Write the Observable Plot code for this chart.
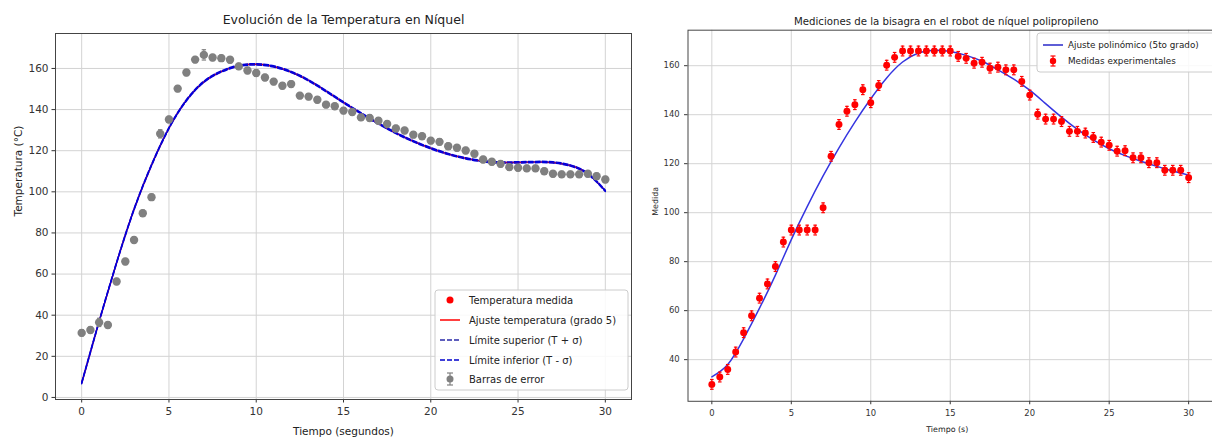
<!DOCTYPE html>
<html><head><meta charset="utf-8">
<script src="https://cdn.jsdelivr.net/npm/d3@7"></script>
<script src="https://cdn.jsdelivr.net/npm/@observablehq/plot@0.6"></script>
<style>
html,body{margin:0;padding:0;background:#fff;overflow:hidden;width:1212px;height:442px;position:relative;}
#left,#right{position:absolute;top:0;}
#left{left:0;} #right{left:640px;}
#legend{position:absolute;left:0;top:0;pointer-events:none;}
svg{font-family:"DejaVu Sans",sans-serif;}
</style></head><body>
<div id="left"></div><div id="right"></div>
<svg id="legend" width="1212" height="442"></svg>
<script>
// ---------- DATA ----------
const tiempo = [0,0.5,1,1.5,2,2.5,3,3.5,4,4.5,5,5.5,6,6.5,7,7.5,8,8.5,9,9.5,10,10.5,11,11.5,12,12.5,13,13.5,14,14.5,15,15.5,16,16.5,17,17.5,18,18.5,19,19.5,20,20.5,21,21.5,22,22.5,23,23.5,24,24.5,25,25.5,26,26.5,27,27.5,28,28.5,29,29.5,30];
const temperatura = [31.4,32.8,36.5,35.2,56.4,66.1,76.6,89.6,97.4,128.2,135.2,150.2,158,164.3,166.6,165.3,165,164.2,161,159,157.8,155.6,153.6,151.6,152.4,146.8,146.3,144.8,142.4,141.6,139.5,138.8,136.2,135.9,134.6,133,130.8,129.8,127.8,127,124.9,124.3,122.2,121.4,120.1,118.5,115.7,114.6,113.6,112,111.7,111.4,111.4,110,108.8,108.5,108.5,108.5,108.8,107.6,106];
const errorTemp = [1.5,1.5,2,1.5,1.5,1.5,1.5,1.5,1.5,2,1.5,1.5,1.5,1.5,2.5,1.5,1.5,1.5,1.5,1.5,1.5,1.5,1.5,1.5,1.5,1.5,1.5,1.5,1.5,1.5,1.5,1.5,1.5,1.5,1.5,1.5,1.5,1.5,1.5,1.5,1.5,1.5,1.5,1.5,1.5,1.5,1.5,1.5,1.5,1.5,1.5,1.5,1.5,1.5,1.5,1.5,1.5,1.5,1.5,1.5,1.5];
const ajusteX = [0,1,2,3,4,5,6,7,8,9,10,11,12,13,14,15,16,17,18,19,20,21,22,23,24,25,26,27,28,29,30];
const ajusteTemp = [7,37,65.5,91.5,113,131,144.5,153.5,158.5,161.3,162,161,158.3,154.2,149,143.5,138.2,133.2,128.6,124.6,121.2,118.4,116.3,114.9,114.3,114.3,114.5,114.3,112.8,108.8,100.5];
const medida = [29.9,32.9,36,43.1,51,57.9,65.1,70.9,78,88,92.9,92.9,92.9,92.9,102,123,136,141.4,144.1,150.2,144.9,151.9,160.2,163.4,166,166,166,166,166,166,166,163.8,163,161,161.4,159,159.4,158.3,158.3,153.6,148,140.2,138.2,138.2,137.2,133.2,133.2,132.5,130.7,128.8,127.5,125.1,125.3,122.4,122.4,120.4,120.4,117.3,117.3,117.3,114.3];
const errorMedida = 2;
const ajusteMedida = [33,38,48.5,61,74.5,89,102.5,115,126.5,137,146.5,155,161.5,165.2,166.3,165.8,164.2,161.8,158.3,154.5,150,144.5,139,134,129.7,126.1,123.3,121,118.9,117,115.3];
const xTicks = [0,5,10,15,20,25,30];
const yTicksLeft = [0,20,40,60,80,100,120,140,160];
const yTicksRight = [40,60,80,100,120,140,160];
const tituloIzq = "Evolución de la Temperatura en Níquel";
const tituloDer = "Mediciones de la bisagra en el robot de níquel polipropileno";
const etiquetasIzq = {x: "Tiempo (segundos)", y: "Temperatura (°C)"};
const etiquetasDer = {x: "Tiempo (s)", y: "Medida"};
const leyendaIzq = ["Temperatura medida","Ajuste temperatura (grado 5)","Límite superior (T + σ)","Límite inferior (T - σ)","Barras de error"];
const leyendaDer = ["Ajuste polinómico (5to grado)","Medidas experimentales"];

// ---------- TABLES ----------
const datosIzq = tiempo.map((t,i)=>({t, v: temperatura[i], e: errorTemp[i]}));
const ajusteIzq = ajusteX.map((t,i)=>({t, v: ajusteTemp[i]}));
const datosDer = tiempo.map((t,i)=>({t, v: medida[i], e: errorMedida}));
const ajusteDer = ajusteX.map((t,i)=>({t, v: ajusteMedida[i]}));

const cap = {draw(ctx, size){ const w = Math.sqrt(size/Math.PI); ctx.moveTo(-w,0); ctx.lineTo(w,0); }};
const gris = "#808080";
const gridC = "#d3d3d3";
const frameC = "#444";

const left = Plot.plot({
  width: 640, height: 442,
  marginLeft: 55, marginRight: 9, marginTop: 33, marginBottom: 43,
  x: {domain: [-1.5, 31.5]},
  y: {domain: [-1, 177]},
  style: {fontFamily: "DejaVu Sans, sans-serif", background: "transparent"},
  marks: [
    Plot.gridX(xTicks, {stroke: gridC, strokeOpacity: 1}),
    Plot.gridY(yTicksLeft, {stroke: gridC, strokeOpacity: 1}),
    Plot.axisX(xTicks, {tickSize: 3.5, tickPadding: 5, fontSize: 10.5, color: "#333", label: null}),
    Plot.axisY(yTicksLeft, {tickSize: 3.5, tickPadding: 3.5, fontSize: 10.5, color: "#333", label: null}),
    Plot.line(ajusteIzq, {x: "t", y: "v", stroke: "red", strokeWidth: 1.5, curve: "natural"}),
    Plot.line(ajusteIzq, {x: "t", y: d => d.v + 0.3, stroke: "#0000dd", strokeWidth: 1.5, strokeDasharray: "5,2", curve: "natural"}),
    Plot.line(ajusteIzq, {x: "t", y: d => d.v - 0.3, stroke: "#0000dd", strokeWidth: 1.5, strokeDasharray: "5,2", curve: "natural"}),
    Plot.ruleX(datosIzq, {x: "t", y1: d => d.v - d.e, y2: d => d.v + d.e, stroke: gris, strokeWidth: 1.2}),
    Plot.dot(datosIzq, {x: "t", y: d => d.v + d.e, symbol: cap, r: 2.2, stroke: gris, fill: "none", strokeWidth: 1.2}),
    Plot.dot(datosIzq, {x: "t", y: d => d.v - d.e, symbol: cap, r: 2.2, stroke: gris, fill: "none", strokeWidth: 1.2}),
    Plot.dot(datosIzq, {x: "t", y: "v", r: 4.2, fill: gris, stroke: "none"}),
    Plot.frame({stroke: frameC, strokeWidth: 1}),
    Plot.text([tituloIzq], {text: d => d, frameAnchor: "top", dy: -18, fontSize: 12.5, fill: "#222"}),
    Plot.text([etiquetasIzq.x], {text: d => d, frameAnchor: "bottom", dy: 35, fontSize: 10.5, fill: "#222"}),
    Plot.text([etiquetasIzq.y], {text: d => d, frameAnchor: "left", dx: -37, rotate: -90, fontSize: 10.5, fill: "#222"})
  ]
});
document.getElementById("left").append(left);

const right = Plot.plot({
  width: 578, height: 442,
  marginLeft: 48, marginRight: 0, marginTop: 30, marginBottom: 37,
  x: {domain: [-1.5, 31.5]},
  y: {domain: [23, 174.5]},
  style: {fontFamily: "DejaVu Sans, sans-serif", background: "transparent"},
  marks: [
    Plot.gridX(xTicks, {stroke: gridC, strokeOpacity: 1}),
    Plot.gridY(yTicksRight, {stroke: gridC, strokeOpacity: 1}),
    Plot.axisX(xTicks, {tickSize: 3.5, tickPadding: 5, fontSize: 8.5, color: "#333", label: null}),
    Plot.axisY(yTicksRight, {tickSize: 3.5, tickPadding: 5, fontSize: 8.5, color: "#333", label: null}),
    Plot.line(ajusteDer, {x: "t", y: "v", stroke: "#3535e0", strokeWidth: 1.5, curve: "natural"}),
    Plot.ruleX(datosDer, {x: "t", y1: d => d.v - d.e, y2: d => d.v + d.e, stroke: "red", strokeWidth: 1.2}),
    Plot.dot(datosDer, {x: "t", y: d => d.v + d.e, symbol: cap, r: 1.8, stroke: "red", fill: "none", strokeWidth: 1.2}),
    Plot.dot(datosDer, {x: "t", y: d => d.v - d.e, symbol: cap, r: 1.8, stroke: "red", fill: "none", strokeWidth: 1.2}),
    Plot.dot(datosDer, {x: "t", y: "v", r: 3.5, fill: "red", stroke: "none"}),
    Plot.frame({stroke: frameC, strokeWidth: 1}),
    Plot.text([tituloDer], {text: d => d, frameAnchor: "top", dx: -4, dy: -13, fontSize: 10.3, fill: "#222"}),
    Plot.text([etiquetasDer.x], {text: d => d, frameAnchor: "bottom", dx: -3, dy: 31, fontSize: 8, fill: "#222"}),
    Plot.text([etiquetasDer.y], {text: d => d, frameAnchor: "left", dx: -33, rotate: -90, fontSize: 8, fill: "#222"})
  ]
});
document.getElementById("right").append(right);

// ---------- LEGENDS ----------
const lg = d3.select("#legend");
function legendBox(x, y, w, h) {
  lg.append("rect").attr("x", x).attr("y", y).attr("width", w).attr("height", h)
    .attr("rx", 3).attr("fill", "white").attr("fill-opacity", 0.85).attr("stroke", "#cccccc");
}
function errHandle(cx, cy, color, r, half, capw) {
  lg.append("line").attr("x1", cx).attr("x2", cx).attr("y1", cy-half).attr("y2", cy+half).attr("stroke", color).attr("stroke-width", 1.2);
  lg.append("line").attr("x1", cx-capw).attr("x2", cx+capw).attr("y1", cy-half).attr("y2", cy-half).attr("stroke", color).attr("stroke-width", 1.2);
  lg.append("line").attr("x1", cx-capw).attr("x2", cx+capw).attr("y1", cy+half).attr("y2", cy+half).attr("stroke", color).attr("stroke-width", 1.2);
  lg.append("circle").attr("cx", cx).attr("cy", cy).attr("r", r).attr("fill", color);
}
function label(x, y, txt, fs) {
  lg.append("text").attr("x", x).attr("y", y).attr("dominant-baseline", "central")
    .attr("font-size", fs).attr("fill", "#222").text(txt);
}
// left legend
legendBox(435, 290, 193, 100);
const ly = [300, 320, 340, 360, 379];
lg.append("circle").attr("cx", 450).attr("cy", ly[0]).attr("r", 3.5).attr("fill", "red");
lg.append("line").attr("x1", 440).attr("x2", 460).attr("y1", ly[1]).attr("y2", ly[1]).attr("stroke", "red").attr("stroke-width", 1.5);
lg.append("line").attr("x1", 440).attr("x2", 460).attr("y1", ly[2]).attr("y2", ly[2]).attr("stroke", "#2a2aa8").attr("stroke-width", 1.5).attr("stroke-dasharray", "5,2");
lg.append("line").attr("x1", 440).attr("x2", 460).attr("y1", ly[3]).attr("y2", ly[3]).attr("stroke", "#0000cc").attr("stroke-width", 1.5).attr("stroke-dasharray", "5,2");
errHandle(450, ly[4], gris, 3.5, 6, 3);
leyendaIzq.forEach((t, i) => label(469, ly[i], t, 10));
// right legend
legendBox(1037, 33, 185, 39);
lg.append("line").attr("x1", 1043).attr("x2", 1063).attr("y1", 45).attr("y2", 45).attr("stroke", "#2828c8").attr("stroke-width", 1.5);
errHandle(1053, 61, "red", 3.2, 5, 2.5);
label(1068, 45, leyendaDer[0], 8.8);
label(1068, 61, leyendaDer[1], 8.8);
</script>
</body></html>
